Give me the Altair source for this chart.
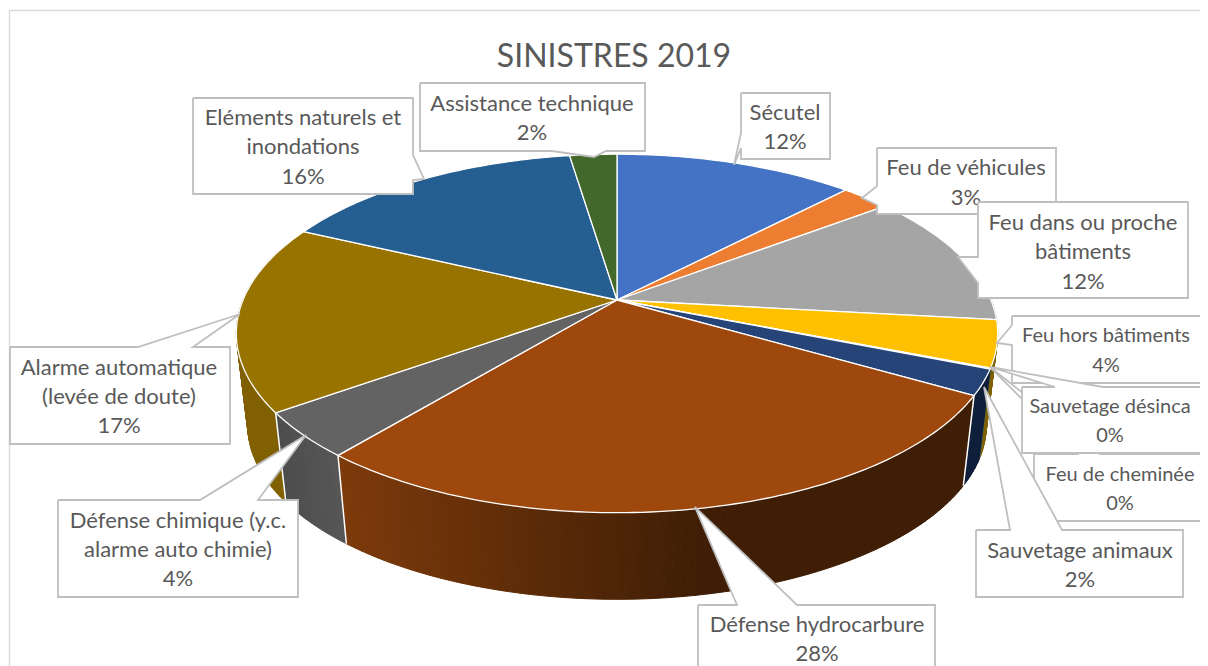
import math
import altair as alt
import pandas as pd

FONT = "Lato"
TEXT = "#595959"
EDGE = "#bfbfbf"

# ---- data (percent, clockwise from the top)
categories = ["Sécutel", "Feu de véhicules", "Feu dans ou proche bâtiments", "Feu hors bâtiments",
              "Sauvetage désinca", "Feu de cheminée", "Sauvetage animaux", "Défense hydrocarbure",
              "Défense chimique", "Alarme automatique", "Eléments naturels et inondations",
              "Assistance technique"]
values = [12.2, 2.5, 12.1, 4.2, 0.04, 0.04, 2.3, 27.7, 4.1, 16.9, 15.6, 2.4]
top_colors = ["#4472C4", "#ED7D31", "#A5A5A5", "#FFC000", "#5B9BD5", "#70AD47",
              "#264478", "#9E480E", "#636363", "#997300", "#255E91", "#43682B"]
wall_left = ["#2a4578", "#8f4a1c", "#636363", "#7f6000", "#375d80", "#43682b",
             "#0e1e3a", "#3f1e05", "#565656", "#806000", "#16385a", "#28401a"]
wall_right = ["#2a4578", "#8f4a1c", "#636363", "#7f6000", "#375d80", "#43682b",
              "#0e1e3a", "#7d3a0b", "#4c4c4c", "#806000", "#16385a", "#28401a"]

# ---- label boxes: lines, text centre x, line y's, outline, font size
callouts = [
    (["Sécutel", "12%"], 785, [113, 142], 22,
     [(741, 93), (830, 93), (830, 159), (741, 159), (741, 148), (734, 165), (741, 133)]),
    (["Feu de véhicules", "3%"], 966, [168, 198], 22,
     [(877, 148), (1056, 148), (1056, 214), (877, 214), (877, 205), (862, 198), (877, 186)]),
    (["Feu dans ou proche", "bâtiments", "12%"], 1083, [223, 252, 282], 22,
     [(978, 202), (1188, 202), (1188, 298), (978, 298), (978, 283), (958, 257), (978, 257)]),
    (["Feu hors bâtiments", "4%"], 1106, [336, 366], 20,
     [(1012, 316), (1230, 316), (1230, 383), (1012, 383), (1012, 345), (997, 343), (1012, 325)]),
    (["Feu de cheminée", "0%"], 1120, [475, 504], 20,
     [(1034, 454), (1077, 454), (990, 367), (1100, 454), (1230, 454), (1230, 521), (1034, 521)]),
    (["Sauvetage désinca", "0%"], 1110, [407, 436], 20,
     [(1022, 387), (1055, 387), (990, 367), (1103, 387), (1230, 387), (1230, 453), (1022, 453)]),
    (["Sauvetage animaux", "2%"], 1080, [551, 580], 22,
     [(976, 530), (1010, 530), (984, 387), (1062, 530), (1183, 530), (1183, 597), (976, 597)]),
    (["Défense hydrocarbure", "28%"], 817, [625, 654], 22,
     [(698, 605), (737, 605), (695, 507), (797, 605), (935, 605), (935, 690), (698, 690)]),
    (["Défense chimique (y.c.", "alarme auto chimie)", "4%"], 178, [521, 550, 579], 22,
     [(58, 500), (200, 500), (306, 435), (258, 500), (298, 500), (298, 597), (58, 597)]),
    (["Alarme automatique", "(levée de doute)", "17%"], 119, [368, 397, 426], 22,
     [(10, 347), (138, 347), (240, 314), (193, 347), (230, 347), (230, 444), (10, 444)]),
    (["Eléments naturels et", "inondations", "16%"], 303, [118, 147, 177], 22,
     [(193, 98), (413, 98), (413, 155), (424, 179), (413, 180), (413, 194), (193, 194)]),
    (["Assistance technique", "2%"], 532, [104, 133], 22,
     [(420, 83), (645, 83), (645, 151), (606, 151), (594, 157), (552, 151), (420, 151)]),
]
title_text = "SINISTRES 2019"

# ---- perspective of the disc
CX, CY, A, B, K = 617.0, 300.0, 374.0, 173.0, 0.1866
WALL_SCALE, WALL_DROP = 0.97, 93.0


def top(theta_deg):
    t = math.radians(theta_deg)
    x, y = math.sin(t), -math.cos(t)
    w = 1 - K * y
    return A * x / w, B * y / w


def pt_top(theta):
    dx, dy = top(theta)
    return CX + dx, CY + dy


def pt_low(theta):
    dx, dy = top(theta)
    return CX + dx * WALL_SCALE, CY + dy * WALL_SCALE + WALL_DROP


def mix(c1, c2, f):
    a = [int(c1[i:i + 2], 16) for i in (1, 3, 5)]
    b = [int(c2[i:i + 2], 16) for i in (1, 3, 5)]
    return "#%02x%02x%02x" % tuple(round(p + (q - p) * f) for p, q in zip(a, b))


total = sum(values)
edges = [0.0]
for v in values:
    edges.append(edges[-1] + v / total * 360)

wall_rows, top_rows, seam_rows = [], [], []
strips = []
for n, (a0, a1) in enumerate(zip(edges[:-1], edges[1:])):
    steps = max(1, int(math.ceil(a1 - a0)))
    arc = [a0 + (a1 - a0) * s / steps for s in range(steps + 1)]
    for s in range(steps):
        t0, t1 = arc[s], arc[s + 1]
        mid = (t0 + t1) / 2
        if 70 < mid < 290:
            if n == 7:  # the large wall darkens to the right, then stays flat
                f = min(1.0, max(0.0, (pt_top(mid)[0] - 340) / 360))
                colour = mix(wall_right[n], wall_left[n], f)
            else:
                colour = mix(wall_left[n], wall_right[n], (mid - a0) / (a1 - a0))
            strips.append((abs(mid - 180), colour, [pt_top(t0), pt_top(t1), pt_low(t1), pt_low(t0), pt_top(t0)]))
    poly = [(CX, CY)] + [pt_top(t) for t in arc] + [(CX, CY)]
    for i, (x, y) in enumerate(poly):
        top_rows.append({"id": f"s{n:02d}", "i": i, "x": x, "y": y, "c": top_colors[n]})

strips.sort(key=lambda r: -r[0])
for k, (_, c, pts) in enumerate(strips):
    for i, (x, y) in enumerate(pts):
        wall_rows.append({"id": f"w{k:03d}", "i": i, "x": x, "y": y, "c": c})

for j in (7, 8, 9):  # slice boundaries on the visible rim
    for i, (x, y) in enumerate([pt_top(edges[j]), pt_low(edges[j])]):
        seam_rows.append({"id": f"e{j}", "i": i, "x": x, "y": y})

X = alt.X("x:Q", scale=alt.Scale(domain=[8, 1200], nice=False, zero=False), axis=None)
Y = alt.Y("y:Q", scale=alt.Scale(domain=[666, 8], nice=False, zero=False), axis=None)


def polygons(rows, stroke=None, width=1.5):
    enc = dict(x=X, y=Y, order="i:Q", detail="id:N", fill=alt.Fill("c:N", scale=None, legend=None))
    if stroke is None:
        enc["stroke"] = alt.Stroke("c:N", scale=None, legend=None)
        mark = alt.Chart(pd.DataFrame(rows)).mark_line(strokeWidth=1)
    else:
        mark = alt.Chart(pd.DataFrame(rows)).mark_line(stroke=stroke, strokeWidth=width, strokeJoin="miter")
    return mark.encode(**enc)


layers = []
frame = pd.DataFrame({"x": [9.5, 9.5, 1230], "y": [690, 10.5, 10.5], "i": [0, 1, 2]})
layers.append(alt.Chart(frame).mark_line(stroke="#d9d9d9", strokeWidth=1.5).encode(x=X, y=Y, order="i:Q"))
title_df = pd.DataFrame({"x": [614], "y": [57], "t": [title_text]})
layers.append(alt.Chart(title_df).mark_text(font=FONT, fontSize=32, color=TEXT, align="center",
                                            baseline="middle").encode(x=X, y=Y, text="t:N"))
layers.append(polygons(wall_rows))
layers.append(alt.Chart(pd.DataFrame(seam_rows)).mark_line(stroke="white", strokeWidth=1.5)
              .encode(x=X, y=Y, order="i:Q", detail="id:N"))
layers.append(polygons(top_rows, stroke="white", width=1.3))

for n, (lines, cx, ys, size, outline) in enumerate(callouts):
    closed = outline + [outline[0]]
    rows = [{"id": f"c{n}", "i": i, "x": x, "y": y, "c": "white"} for i, (x, y) in enumerate(closed)]
    layers.append(polygons(rows, stroke=EDGE, width=1.8))
    tdf = pd.DataFrame({"x": [cx] * len(lines), "y": ys, "t": lines})
    layers.append(alt.Chart(tdf).mark_text(font=FONT, fontSize=size, color=TEXT, align="center",
                                           baseline="middle").encode(x=X, y=Y, text="t:N"))

chart = alt.layer(*layers).properties(
    width=1192, height=658, padding=0,
    autosize=alt.AutoSizeParams(type="none", contains="padding"),
    background="white",
).configure_view(stroke=None)

chart.save("out.html", embed_options={"renderer": "svg", "actions": False})
